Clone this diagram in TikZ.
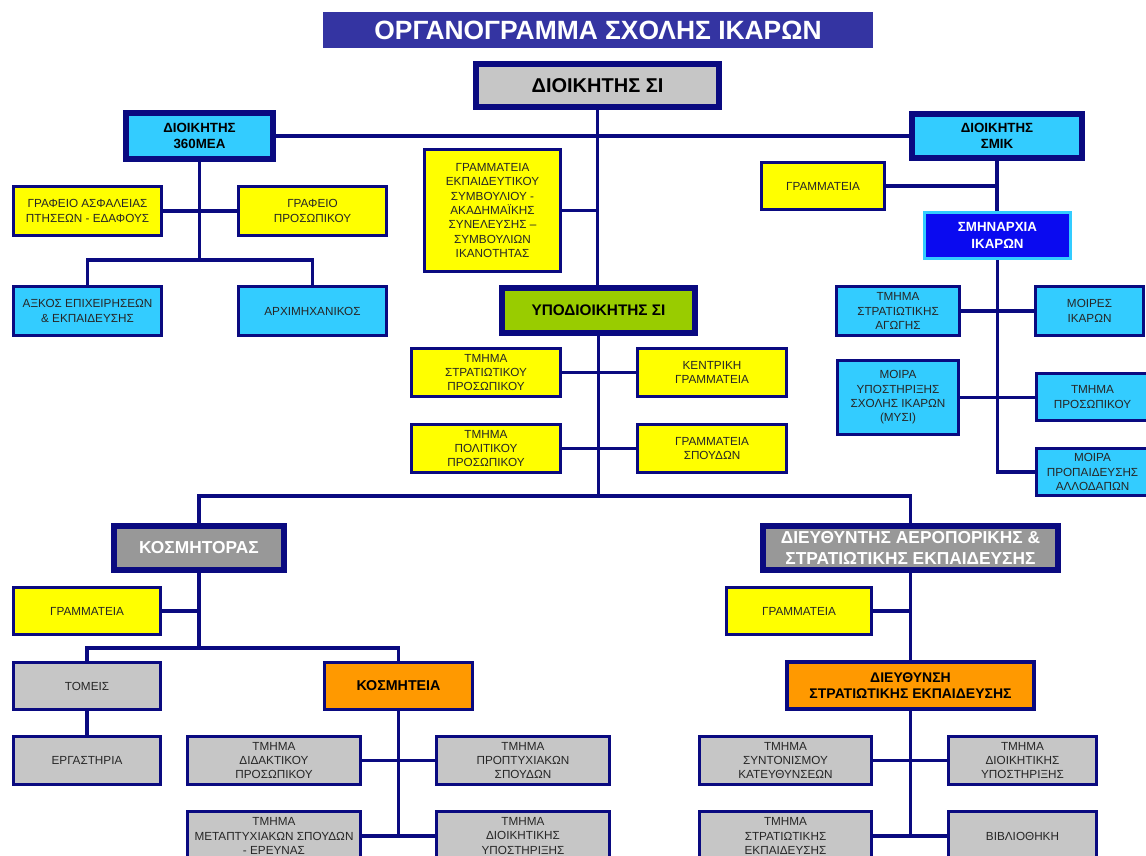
\documentclass[tikz,border=0pt]{standalone}
\usepackage{fontspec}
\setmainfont{Liberation Sans}
\definecolor{navy}{HTML}{0A0A80}
\definecolor{titleblue}{HTML}{3434A2}
\definecolor{yel}{HTML}{FFFF00}
\definecolor{cyanb}{HTML}{33CCFF}
\definecolor{lgray}{HTML}{C6C6C6}
\definecolor{mgray}{HTML}{989898}
\definecolor{green}{HTML}{99CC00}
\definecolor{orng}{HTML}{FF9900}
\definecolor{blu}{HTML}{0A0AF0}
\definecolor{txt}{HTML}{262626}
\newcommand\smallf{\fontsize{8.8}{10.7}\selectfont}
\newcommand\bx[8]{\node[#2, line width={#3*0.75pt}, minimum width={(#6-#4-#3)*0.75pt}, minimum height={(#7-#5-#3)*0.75pt}] (#1) at ({(#4+#6)/2},{(#5+#7)/2}) {#8};}
\tikzset{
  base/.style={draw=navy, rectangle, inner sep=0pt, align=center, text=txt, font=\smallf},
  yelbox/.style={base, fill=yel},
  cybox/.style={base, fill=cyanb},
  lgbox/.style={base, fill=lgray},
  conn/.style={draw=navy, line width=2.3pt},
}
\begin{document}
\begin{tikzpicture}[x=0.75pt,y=-0.75pt]
\useasboundingbox (0,0) rectangle (1146,856);
\clip (0,0) rectangle (1146,856);
\fill[white] (0,0) rectangle (1146,856);
% title
\node[fill=titleblue, inner sep=0pt, minimum width={550*0.75pt}, minimum height={36*0.75pt}, text=white, font=\fontsize{19.8}{22}\selectfont\bfseries] (title) at (598,30) {ΟΡΓΑΝΟΓΡΑΜΜΑ ΣΧΟΛΗΣ ΙΚΑΡΩΝ};
% top level
\bx{dsi}{lgbox, font=\fontsize{15}{18}\selectfont\bfseries, text=black}{6}{473}{61}{722}{110}{ΔΙΟΙΚΗΤΗΣ ΣΙ}
\bx{d360}{cybox, font=\fontsize{10}{12.5}\selectfont\bfseries, text=black}{6}{123}{110}{276}{162}{ΔΙΟΙΚΗΤΗΣ\\360ΜΕΑ}
\bx{dsmik}{cybox, font=\fontsize{10}{12.5}\selectfont\bfseries, text=black}{6}{909}{111}{1085}{161}{ΔΙΟΙΚΗΤΗΣ\\ΣΜΙΚ}
\bx{gekp}{yelbox}{3}{423}{148}{562}{273}{ΓΡΑΜΜΑΤΕΙΑ\\ΕΚΠΑΙΔΕΥΤΙΚΟΥ\\ΣΥΜΒΟΥΛΙΟΥ -\\ΑΚΑΔΗΜΑΪΚΗΣ\\ΣΥΝΕΛΕΥΣΗΣ –\\ΣΥΜΒΟΥΛΙΩΝ\\ΙΚΑΝΟΤΗΤΑΣ}
\bx{ypo}{base, fill=green, font=\fontsize{11.5}{14}\selectfont\bfseries, text=black}{6}{499}{285}{698}{336}{ΥΠΟΔΙΟΙΚΗΤΗΣ ΣΙ}
% 360MEA branch
\bx{gaf}{yelbox}{3}{12}{185}{163}{237}{ΓΡΑΦΕΙΟ ΑΣΦΑΛΕΙΑΣ\\ΠΤΗΣΕΩΝ - ΕΔΑΦΟΥΣ}
\bx{gpr}{yelbox}{3}{237}{185}{388}{237}{ΓΡΑΦΕΙΟ\\ΠΡΟΣΩΠΙΚΟΥ}
\bx{axk}{cybox}{3}{12}{285}{163}{337}{ΑΞΚΟΣ ΕΠΙΧΕΙΡΗΣΕΩΝ\\\& ΕΚΠΑΙΔΕΥΣΗΣ}
\bx{arx}{cybox}{3}{237}{285}{388}{337}{ΑΡΧΙΜΗΧΑΝΙΚΟΣ}
% SMIK branch
\bx{gram1}{yelbox}{3}{760}{161}{886}{211}{ΓΡΑΜΜΑΤΕΙΑ}
\bx{smn}{base, fill=blu, draw=cyanb, text=white, font=\fontsize{10}{12.5}\selectfont\bfseries}{3}{923}{211}{1072}{260}{ΣΜΗΝΑΡΧΙΑ\\ΙΚΑΡΩΝ}
\bx{tsa}{cybox}{3}{835}{285}{961}{337}{ΤΜΗΜΑ\\ΣΤΡΑΤΙΩΤΙΚΗΣ\\ΑΓΩΓΗΣ}
\bx{mi}{cybox}{3}{1034}{285}{1145}{337}{ΜΟΙΡΕΣ\\ΙΚΑΡΩΝ}
\bx{myp}{cybox}{3}{836}{359}{960}{436}{ΜΟΙΡΑ\\ΥΠΟΣΤΗΡΙΞΗΣ\\ΣΧΟΛΗΣ ΙΚΑΡΩΝ\\(ΜΥΣΙ)}
\bx{tpr}{cybox}{3}{1035}{372}{1150}{422}{ΤΜΗΜΑ\\ΠΡΟΣΩΠΙΚΟΥ}
\bx{mpro}{cybox}{3}{1035}{447}{1150}{497}{ΜΟΙΡΑ\\ΠΡΟΠΑΙΔΕΥΣΗΣ\\ΑΛΛΟΔΑΠΩΝ}
% middle
\bx{tsp}{yelbox}{3}{410}{347}{562}{398}{ΤΜΗΜΑ\\ΣΤΡΑΤΙΩΤΙΚΟΥ\\ΠΡΟΣΩΠΙΚΟΥ}
\bx{kg}{yelbox}{3}{636}{347}{788}{398}{ΚΕΝΤΡΙΚΗ\\ΓΡΑΜΜΑΤΕΙΑ}
\bx{tpol}{yelbox}{3}{410}{423}{562}{474}{ΤΜΗΜΑ\\ΠΟΛΙΤΙΚΟΥ\\ΠΡΟΣΩΠΙΚΟΥ}
\bx{gsp}{yelbox}{3}{636}{423}{788}{474}{ΓΡΑΜΜΑΤΕΙΑ\\ΣΠΟΥΔΩΝ}
% kosmitoras
\bx{kosm}{base, fill=mgray, text=white, font=\fontsize{13}{16}\selectfont\bfseries}{6}{111}{523}{287}{573}{ΚΟΣΜΗΤΟΡΑΣ}
\bx{gram2}{yelbox}{3}{12}{586}{162}{636}{ΓΡΑΜΜΑΤΕΙΑ}
\bx{tom}{lgbox}{3}{12}{661}{162}{711}{ΤΟΜΕΙΣ}
\bx{erg}{lgbox}{3}{12}{735}{162}{786}{ΕΡΓΑΣΤΗΡΙΑ}
\bx{kmt}{base, fill=orng, text=black, font=\fontsize{10.7}{13}\selectfont\bfseries}{3}{323}{661}{474}{711}{ΚΟΣΜΗΤΕΙΑ}
\bx{did}{lgbox}{3}{186}{735}{362}{786}{ΤΜΗΜΑ\\ΔΙΔΑΚΤΙΚΟΥ\\ΠΡΟΣΩΠΙΚΟΥ}
\bx{prop}{lgbox}{3}{435}{735}{611}{786}{ΤΜΗΜΑ\\ΠΡΟΠΤΥΧΙΑΚΩΝ\\ΣΠΟΥΔΩΝ}
\bx{met}{lgbox}{3}{186}{810}{362}{862}{ΤΜΗΜΑ\\ΜΕΤΑΠΤΥΧΙΑΚΩΝ ΣΠΟΥΔΩΝ\\- ΕΡΕΥΝΑΣ}
\bx{dioik}{lgbox}{3}{435}{810}{611}{862}{ΤΜΗΜΑ\\ΔΙΟΙΚΗΤΙΚΗΣ\\ΥΠΟΣΤΗΡΙΞΗΣ}
% dae
\bx{dae}{base, fill=mgray, text=white, font=\fontsize{13}{16}\selectfont\bfseries}{6}{760}{523}{1061}{573}{ΔΙΕΥΘΥΝΤΗΣ ΑΕΡΟΠΟΡΙΚΗΣ \&\\ΣΤΡΑΤΙΩΤΙΚΗΣ ΕΚΠΑΙΔΕΥΣΗΣ}
\bx{gram3}{yelbox}{3}{725}{586}{873}{636}{ΓΡΑΜΜΑΤΕΙΑ}
\bx{des}{base, fill=orng, text=black, font=\fontsize{10.5}{12.5}\selectfont\bfseries}{4}{785}{660}{1036}{711}{ΔΙΕΥΘΥΝΣΗ\\ΣΤΡΑΤΙΩΤΙΚΗΣ ΕΚΠΑΙΔΕΥΣΗΣ}
\bx{sun}{lgbox}{3}{698}{735}{873}{786}{ΤΜΗΜΑ\\ΣΥΝΤΟΝΙΣΜΟΥ\\ΚΑΤΕΥΘΥΝΣΕΩΝ}
\bx{dy}{lgbox}{3}{947}{735}{1098}{786}{ΤΜΗΜΑ\\ΔΙΟΙΚΗΤΙΚΗΣ\\ΥΠΟΣΤΗΡΙΞΗΣ}
\bx{ste}{lgbox}{3}{698}{810}{873}{862}{ΤΜΗΜΑ\\ΣΤΡΑΤΙΩΤΙΚΗΣ\\ΕΚΠΑΙΔΕΥΣΗΣ}
\bx{bib}{lgbox}{3}{947}{810}{1098}{862}{ΒΙΒΛΙΟΘΗΚΗ}
% junction coordinates
\coordinate (j1) at (199.5,260);
\coordinate (j2) at (598,496);
\coordinate (j3) at (199,648);
% connectors
\draw[conn] (dsi.south) -- (dsi.south |- ypo.north);
\draw[conn] (d360.east) -- (dsmik.west);
\draw[conn] (gekp.east) -- (gekp.east -| dsi.south);
\draw[conn] (d360.south) -- (j1);
\draw[conn] (axk.north) |- (j1) -| (arx.north);
\draw[conn] (gaf.east) -- (gpr.west);
\draw[conn] (dsmik.south) -- (dsmik.south |- smn.north);
\draw[conn] (gram1.east) -- (gram1.east -| dsmik.south);
\draw[conn] (smn.south) |- (mpro.west);
\draw[conn] (tsa.east) -- (mi.west);
\draw[conn] (myp.east) -- (myp.east -| tpr.west);
\draw[conn] (ypo.south) -- (ypo.south |- j2);
\draw[conn] (kosm.north) |- (j2) -| (dae.north);
\draw[conn] (tsp.east) -- (kg.west);
\draw[conn] (tpol.east) -- (gsp.west);
\draw[conn] (kosm.south) -- (j3);
\draw[conn] (gram2.east) -- (gram2.east -| kosm.south);
\draw[conn] (tom.north) |- (j3) -| (kmt.north);
\draw[conn] (tom.south) -- (erg.north);
\draw[conn] (kmt.south) -- (kmt.south |- met.east);
\draw[conn] (did.east) -- (prop.west);
\draw[conn] (met.east) -- (dioik.west);
\draw[conn] (dae.south) -- (dae.south |- des.north);
\draw[conn] (gram3.east) -- (gram3.east -| dae.south);
\draw[conn] (des.south) -- (des.south |- ste.east);
\draw[conn] (sun.east) -- (dy.west);
\draw[conn] (ste.east) -- (bib.west);
\end{tikzpicture}
\end{document}
